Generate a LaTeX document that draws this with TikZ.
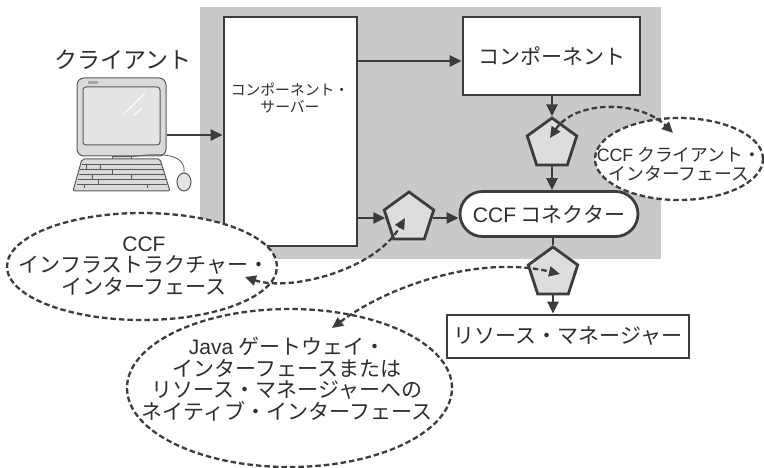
\documentclass[tikz,border=0pt]{standalone}
\usepackage{fontspec}
\setmainfont{Noto Sans CJK JP}
\newfontfamily\lat{Liberation Sans}
\usetikzlibrary{arrows.meta,shapes.geometric}

\definecolor{ink}{HTML}{3C3C3C}
\definecolor{txt}{HTML}{2E2E2E}
\definecolor{panel}{HTML}{C8C9CB}
\definecolor{plug}{HTML}{DCDDDF}
\definecolor{pcbody}{HTML}{D9DADC}
\definecolor{pcscreen}{HTML}{E3E4E6}
\definecolor{pcline}{HTML}{5A5A5A}

\begin{document}
\begin{tikzpicture}[x=1pt,y=-1pt,
  every node/.style={text=txt},
  box/.style={draw=ink, line width=2.8pt, fill=white, inner sep=0pt},
  plugin/.style={regular polygon, regular polygon sides=5, minimum size=52pt,
    inner sep=0pt, draw=ink, line width=2.8pt, fill=plug},
  flow/.style={draw=ink, line width=2.6pt, -{Triangle[length=12pt,width=11pt]}},
  iface/.style={ellipse, draw=ink, fill=white, line width=2.3pt,
    dash pattern=on 5.5pt off 3pt, inner sep=0pt},
  link/.style={draw=ink, line width=2.3pt, dash pattern=on 5.5pt off 3pt,
    {Triangle[length=11pt,width=10pt]}-{Triangle[length=11pt,width=10pt]}},
  big/.style={font=\fontsize{21}{21.5}\selectfont, align=center},
]
\useasboundingbox (0,0) rectangle (764,468);

% grey panel holding the server side
\node[fill=panel, minimum width=461pt, minimum height=252pt, inner sep=0pt] (zone) at (430.5,133) {};

% boxes and plug-in points
\node[box, minimum width=133pt, minimum height=229pt] (srv) at (290.5,131.5) {};
\node[font=\fontsize{14.8}{17}\selectfont, align=center] (srvname) at (290,98.5) {コンポーネント・\\サーバー};
\node[box, minimum width=177pt, minimum height=78pt, big] (comp) at (551.5,56) {コンポーネント};
\node[plugin] (p1) at (552,144) {};
\node[box, rounded corners=22.5pt, minimum width=178pt, minimum height=45pt, big] (ccf) at (549,214) {{\lat CCF} コネクター};
\node[plugin] (p2) at (409,218) {};
\node[plugin] (p3) at (553,273) {};
\node[box, minimum width=242pt, minimum height=43pt, big] (rm) at (568,336.5) {リソース・マネージャー};

% client workstation
\node[font=\fontsize{23}{24}\selectfont] (clientname) at (123,60) {クライアント};
\node[draw=pcline, fill=pcbody, line width=1pt, rounded corners=7pt,
  minimum width=89pt, minimum height=78pt, inner sep=0pt] (mon) at (121.5,117) {};
\draw[pcline, fill=pcscreen, line width=1pt, rounded corners=3pt] (83,87) rectangle (160,145);
\fill[gray!70] (88,81) rectangle (98,84);
\draw[white, line width=1pt] (123,115) -- (145,93) (134,115) -- (142,108);
\draw[pcline, fill=pcbody, line width=0.8pt] (112,156) rectangle (131,160);
\draw[pcline, line width=0.8pt] (131,157) .. controls (175,150) and (186,160) .. (184,173);
\draw[pcline, fill=pcbody, line width=1pt, rounded corners=2pt]
  (82,159) -- (160,159) -- (170,191) -- (73,191) -- cycle;
\draw[pcline, line width=0.7pt]
  (82,164) -- (161,164) (80,169) -- (163,169) (79,174) -- (164,174)
  (78,179) -- (166,179) (77,184) -- (167,184)
  (86,164) -- (86,169) (100,164) -- (100,169) (112,169) -- (112,174)
  (92,174) -- (92,179) (131,174) -- (131,179) (98,179) -- (98,184)
  (84,184) -- (84,188) (147,184) -- (147,188);
\draw[pcline, fill=pcscreen, line width=1pt] (184,182) ellipse [x radius=7pt, y radius=9pt];

% solid connectors
\coordinate (monout) at ([yshift=-18pt]mon.east);
\draw[flow] (monout) -- (monout -| srv.west);
\coordinate (compin) at ([yshift=-5pt]comp.west);
\draw[flow] (compin -| srv.east) -- (compin);
\draw[flow] (comp.south -| p1.north) -- (p1.north);
\draw[flow] (p1.south) -- (p1.south |- ccf.north);
\draw[flow] (p2.west -| srv.east) -- (p2.west);
\draw[flow] (p2.east) -- (p2.east -| ccf.west);
\draw[ink, line width=2.6pt] (p3.north |- ccf.south) -- (p3.north);
\draw[flow] (p3.south) -- (p3.south |- rm.north);

% interface callouts
\node[iface, minimum width=168pt, minimum height=82pt] (cli) at (679,159) {};
\node[font=\fontsize{17.8}{18.5}\selectfont, align=center] (clitext) at (679,164)
  {{\lat CCF} クライアント・\\インターフェース};
\node[iface, minimum width=270pt, minimum height=107pt] (infra) at (142,266.5) {};
\node[big] (infratext) at (144,266) {{\lat CCF}\\インフラストラクチャー・\\インターフェース};
\node[iface, minimum width=325pt, minimum height=158pt] (java) at (289.5,388) {};
\node[big] (javatext) at (287,379)
  {{\lat Java} ゲートウェイ・\\インターフェースまたは\\リソース・マネージャーへの\\ネイティブ・インターフェース};

% dashed links between plug-in points and callouts
\draw[link] ([shift={(-2,-6)}]p1.center) .. controls (575,100) and (640,100) .. ([shift={(-6,-26)}]cli.center);
\draw[link] ([shift={(103,10.5)}]infra.center) .. controls (290,292) and (375,270) .. ([shift={(-4,0)}]p2.center);
\draw[link] ([shift={(42.5,-60)}]java.center) .. controls (390,285) and (480,255) .. ([shift={(7,1)}]p3.center);
\end{tikzpicture}
\end{document}
